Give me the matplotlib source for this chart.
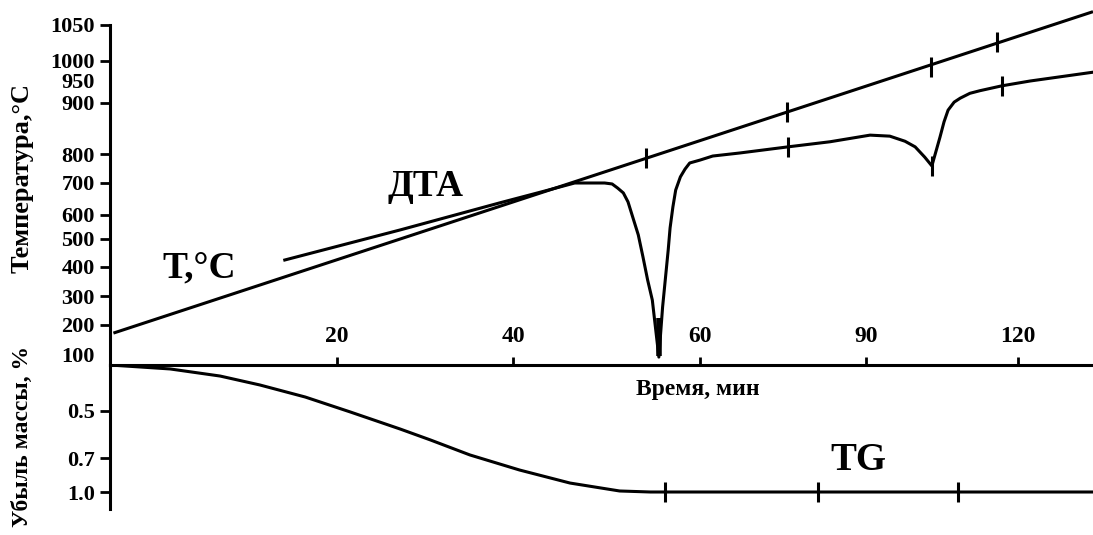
import numpy as np
import matplotlib
matplotlib.use('Agg')
import matplotlib.pyplot as plt

plt.rcParams['font.family'] = ['Liberation Serif', 'DejaVu Serif']
plt.rcParams['font.weight'] = 'bold'

# temperature program line "T, °C" (time in min, temperature in °C)
t_line_time = [0.3, 134.8]
t_line_temp = [173, 1068]
t_mark_time = [54.2, 75.7, 102.8, 115.9]
t_mark_temp = [786, 882, 986, 1026]

# DTA curve
dta_time = [15.4, 27.2, 38.5, 43.4, 46.6, 49.8, 50.6, 51.2, 51.8, 52.3, 52.8, 53.4,
            53.9, 54.4, 54.9, 55.6, 56.0, 56.6, 56.8, 57.1, 57.4, 57.9, 58.4, 58.9,
            60.0, 62.3, 67.2, 75.9, 83.5, 90.8, 94.7, 97.7, 99.7, 101.6, 103.0,
            104.6, 105.4, 106.2, 107.4, 108.6, 110.5, 112.5, 116.8, 122.4, 134.8]
dta_temp = [425, 538, 638, 675, 700, 700, 697, 684, 669, 641, 592, 517,
            436, 355, 286, 93, 262, 461, 546, 625, 678, 721, 748, 769,
            779, 793, 802, 814, 824, 837, 835, 825, 814, 789, 759,
            833, 863, 886, 902, 911, 922, 928, 939, 950, 972]
dta_mark_time = [75.9, 103.0, 116.8]
dta_mark_temp = [814, 759, 939]
dta_peak_time = [55.6]
dta_peak_temp = [160]

# TG curve (mass loss, %)
tg_time = [0, 5.3, 9.7, 13.2, 17.2, 21.5, 27.2, 30.6, 35.1, 40.7, 46.1, 51.4, 54.7, 134.8]
tg_loss = [0, 0.043, 0.12, 0.217, 0.348, 0.504, 0.577, 0.623, 0.687, 0.806, 0.921,
           0.991, 1.0, 1.0]
tg_mark_time = [56.3, 81.3, 108.2]
tg_mark_loss = [1.0, 1.0, 1.0]

# axis ticks
time_ticks = [20, 40, 60, 90, 120]
temp_ticks = [100, 200, 300, 400, 500, 600, 700, 800, 900, 950, 1000, 1050]
loss_ticks = [0.5, 0.7, 1.0]

# the original axes are not uniform: piecewise scales (value -> pixels)
time_anchor = [0, 20, 40, 60, 90, 120, 150]
time_px = [0, 227, 403, 590, 756, 908, 1060]
temp_anchor = [0, 100, 200, 300, 400, 500, 600, 700, 800, 900, 950, 1000, 1050, 1200]
temp_px = [-20, 10, 40, 69, 98, 126, 150, 182, 211, 262, 284, 304, 340, 451]
loss_anchor = [0, 0.5, 0.7, 1.0, 1.5]
loss_px = [0, 46, 93, 127, 184]


def piecewise(vals, px):
    fwd = lambda v: np.interp(v, vals, px)
    inv = lambda p: np.interp(p, px, vals)
    return fwd, inv


time_f = piecewise(time_anchor, time_px)
temp_f = piecewise(temp_anchor, temp_px)
loss_f = piecewise(loss_anchor, loss_px)

W, H = 1093, 535
x0 = 110
axis_y = 365
fig = plt.figure(figsize=(W / 100, H / 100), dpi=100)
ax = fig.add_axes([x0 / W, (H - axis_y) / H, (W - x0) / W, axis_y / H])
ax2 = fig.add_axes([x0 / W, 0, (W - x0) / W, (H - axis_y) / H], sharex=ax)

ax.set_xscale('function', functions=time_f)
ax.set_yscale('function', functions=temp_f)
ax2.set_yscale('function', functions=loss_f)

ax.set_xlim(0, time_f[1](W - x0))
ax.set_ylim(temp_f[1](0), temp_f[1](axis_y))
ax2.set_ylim(loss_f[1](H - axis_y), 0)

lw = 2.2
ax.plot(t_line_time, t_line_temp, color='black', lw=lw, solid_capstyle='butt')
ax.plot(t_mark_time, t_mark_temp, ls='none', marker='|', ms=15, mew=lw, color='black')
ax.plot(dta_time, dta_temp, color='black', lw=lw)
ax.plot(dta_mark_time, dta_mark_temp, ls='none', marker='|', ms=15, mew=lw, color='black')
ax.plot(dta_peak_time, dta_peak_temp, ls='none', marker='|', ms=28, mew=4, color='black')
ax2.plot(tg_time, tg_loss, color='black', lw=lw)
ax2.plot(tg_mark_time, tg_mark_loss, ls='none', marker='|', ms=15, mew=lw, color='black')

for a in (ax, ax2):
    a.spines['top'].set_visible(False)
    a.spines['right'].set_visible(False)
    a.spines['left'].set_linewidth(2.2)
    a.patch.set_alpha(0)
ax.spines['bottom'].set_linewidth(2.2)
ax2.spines['bottom'].set_visible(False)
ax.spines['left'].set_bounds(temp_f[1](0), 1050)
ax2.spines['left'].set_bounds(0, loss_f[1](144))

ax.set_xticks(time_ticks)
ax.set_xticklabels([str(v) for v in time_ticks])
ax.xaxis.set_minor_locator(matplotlib.ticker.NullLocator())
ax.tick_params(axis='x', direction='in', length=6, width=2, pad=-28, labelsize=17)

ax.set_yticks(temp_ticks)
ax.set_yticklabels([str(v) for v in temp_ticks])
ax.yaxis.set_minor_locator(matplotlib.ticker.NullLocator())
ax.tick_params(axis='y', direction='out', length=7, width=2, pad=4, labelsize=16)
for tk, v in zip(ax.yaxis.get_major_ticks(), temp_ticks):
    if v in (100, 950):
        tk.tick1line.set_visible(False)

ax2.set_yticks(loss_ticks)
ax2.set_yticklabels(['0.5', '0.7', '1.0'])
ax2.yaxis.set_minor_locator(matplotlib.ticker.NullLocator())
ax2.tick_params(axis='y', direction='out', length=7, width=2, pad=4, labelsize=16)
ax2.tick_params(axis='x', bottom=False, labelbottom=False)

fig.text(22 / W, 1 - 178 / H, 'Температура,°C', rotation=90, ha='center', va='center', fontsize=19)
fig.text(22 / W, 1 - 436 / H, 'Убыль массы, %', rotation=90, ha='center', va='center', fontsize=17)
fig.text(698 / W, 1 - 389 / H, 'Время, мин', ha='center', va='center', fontsize=17)
fig.text(426 / W, 1 - 186 / H, 'ДТА', ha='center', va='center', fontsize=27)
fig.text(199 / W, 1 - 268 / H, 'T,°C', ha='center', va='center', fontsize=27)
fig.text(858 / W, 1 - 461 / H, 'TG', ha='center', va='center', fontsize=28)

fig.savefig('out.png', dpi=100)
